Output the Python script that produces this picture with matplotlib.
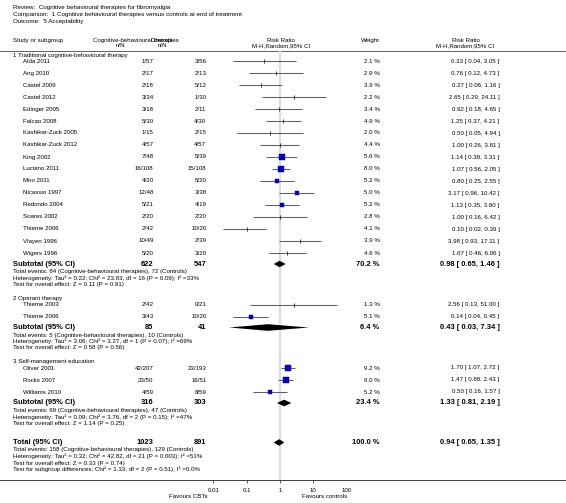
import matplotlib
matplotlib.use("Agg")
import matplotlib.pyplot as plt
import numpy as np

plt.rcParams['font.family'] = ['Liberation Sans', 'DejaVu Sans']

# ---------------- data ----------------
title_lines = ["Review:  Cognitive behavioural therapies for fibromyalgia",
               "Comparison:  1 Cognitive behavioural therapies versus controls at end of treatment",
               "Outcome:  5 Acceptability"]

group_names = ["1 Traditional cognitive-behavioural therapy",
               "2 Operant therapy",
               "3 Self-management education"]

g1_studies = ["Alda 2011", "Ang 2010", "Castel 2009", "Castel 2012", "Edinger 2005", "Falcao 2008",
              "Kashikar-Zuck 2005", "Kashikar-Zuck 2012", "King 2002", "Luciano 2011", "Miro 2011",
              "Nicassio 1997", "Redondo 2004", "Soares 2002", "Thieme 2006", "Vlayen 1996", "Wigers 1996"]
g1_exp = ["1/57", "2/17", "2/18", "3/34", "3/18", "5/30", "1/15", "4/57", "7/48", "16/108", "4/20",
          "12/48", "5/21", "2/20", "2/42", "10/49", "5/20"]
g1_ctl = ["3/56", "2/13", "5/12", "1/30", "2/11", "4/30", "2/15", "4/57", "5/39", "15/108", "5/20",
          "3/38", "4/19", "2/20", "10/20", "2/39", "3/20"]
g1_weight = [2.1, 2.9, 3.9, 2.2, 3.4, 4.9, 2.0, 4.4, 5.6, 8.0, 5.2, 5.0, 5.2, 2.8, 4.1, 3.9, 4.6]
g1_rr = [0.33, 0.76, 0.27, 2.65, 0.92, 1.25, 0.50, 1.00, 1.14, 1.07, 0.80, 3.17, 1.13, 1.00, 0.10, 3.98, 1.67]
g1_lo = [0.04, 0.12, 0.06, 0.29, 0.18, 0.37, 0.05, 0.26, 0.39, 0.56, 0.25, 0.96, 0.35, 0.16, 0.02, 0.93, 0.46]
g1_hi = [3.05, 4.73, 1.16, 24.11, 4.65, 4.21, 4.94, 3.81, 3.31, 2.05, 2.55, 10.42, 3.60, 6.42, 0.39, 17.11, 6.06]

g2_studies = ["Thieme 2003", "Thieme 2006"]
g2_exp = ["2/42", "3/43"]
g2_ctl = ["0/21", "10/20"]
g2_weight = [1.3, 5.1]
g2_rr = [2.56, 0.14]
g2_lo = [0.13, 0.04]
g2_hi = [51.00, 0.45]

g3_studies = ["Oliver 2001", "Rocks 2007", "Williams 2010"]
g3_exp = ["42/207", "23/50", "4/59"]
g3_ctl = ["23/193", "16/51", "8/59"]
g3_weight = [9.2, 9.0, 5.2]
g3_rr = [1.70, 1.47, 0.50]
g3_lo = [1.07, 0.88, 0.16]
g3_hi = [2.72, 2.43, 1.57]

sub_n_exp = [622, 85, 316]
sub_n_ctl = [547, 41, 303]
sub_weight = [70.2, 6.4, 23.4]
sub_rr = [0.98, 0.43, 1.33]
sub_lo = [0.65, 0.03, 0.81]
sub_hi = [1.46, 7.34, 2.19]
sub_notes = [
    ["Total events: 84 (Cognitive-behavioural therapies), 72 (Controls)",
     "Heterogeneity: Tau\u00b2 = 0.22; Chi\u00b2 = 23.83, df = 16 (P = 0.09); I\u00b2 =33%",
     "Test for overall effect: Z = 0.11 (P = 0.91)"],
    ["Total events: 5 (Cognitive-behavioural therapies), 10 (Controls)",
     "Heterogeneity: Tau\u00b2 = 3.06; Chi\u00b2 = 3.27, df = 1 (P = 0.07); I\u00b2 =69%",
     "Test for overall effect: Z = 0.58 (P = 0.56)"],
    ["Total events: 69 (Cognitive-behavioural therapies), 47 (Controls)",
     "Heterogeneity: Tau\u00b2 = 0.09; Chi\u00b2 = 3.76, df = 2 (P = 0.15); I\u00b2 =47%",
     "Test for overall effect: Z = 1.14 (P = 0.25)"],
]

total_n_exp = 1023
total_n_ctl = 891
total_weight = 100.0
total_rr = 0.94
total_lo = 0.65
total_hi = 1.35
total_notes = ["Total events: 158 (Cognitive-behavioural therapies), 129 (Controls)",
               "Heterogeneity: Tau\u00b2 = 0.32; Chi\u00b2 = 42.82, df = 21 (P = 0.003); I\u00b2 =51%",
               "Test for overall effect: Z = 0.33 (P = 0.74)",
               "Test for subgroup differences: Chi\u00b2 = 1.33, df = 2 (P = 0.51), I\u00b2 =0.0%"]

axis_ticks = [0.01, 0.1, 1, 10, 100]
axis_tick_labels = ["0.01", "0.1", "1", "10", "100"]
favours_left = "Favours CBTs"
favours_right = "Favours controls"

groups = [
    (g1_studies, g1_exp, g1_ctl, g1_weight, g1_rr, g1_lo, g1_hi),
    (g2_studies, g2_exp, g2_ctl, g2_weight, g2_rr, g2_lo, g2_hi),
    (g3_studies, g3_exp, g3_ctl, g3_weight, g3_rr, g3_lo, g3_hi),
]

# ---------------- layout ----------------
W, H = 566, 503
fig = plt.figure(figsize=(W / 100, H / 100), dpi=100)
ax = fig.add_axes([0, 0, 1, 1])
ax.set_xlim(0, W)
ax.set_ylim(H, 0)
ax.axis('off')

x_left_px, x_right_px = 213.2, 346.8
axf = fig.add_axes([x_left_px / W, 0, (x_right_px - x_left_px) / W, 1])
axf.set_xscale('log')
axf.set_xlim(0.01, 100)
axf.set_ylim(H, 0)
axf.axis('off')

FS = 4.4
FS_NOTE = 4.4
FS_TITLE = 4.5
FS_B = 5.4
x_name0 = 13
x_name = 23
x_exp = 153.5
x_ctl = 206.5
x_w = 379.5
x_rr = 499.5

def fmt_ci(r, l, h):
    return f"{r:.2f} [ {l:.2f}, {h:.2f} ]"

# titles
for i, t in enumerate(title_lines):
    ax.text(x_name0, 7.5 + i * 6.8, t, fontsize=FS_TITLE, va='center', ha='left')

# header
hy1, hy2 = 40.5, 45.5
ax.text(x_name0, hy1, "Study or subgroup", fontsize=FS, va='center')
ax.text(93, hy1, "Cognitive-behavioural therapies", fontsize=FS, va='center')
ax.text(120, hy2, "n/N", fontsize=FS, va='center', ha='center')
ax.text(151, hy1, "Controls", fontsize=FS, va='center')
ax.text(162, hy2, "n/N", fontsize=FS, va='center', ha='center')
ax.text(281, hy1, "Risk Ratio", fontsize=FS, va='center', ha='center')
ax.text(281, hy2, "M-H,Random,95% CI", fontsize=FS, va='center', ha='center')
ax.text(x_w, hy1, "Weight", fontsize=FS, va='center', ha='right')
ax.text(465.5, hy1, "Risk Ratio", fontsize=FS, va='center', ha='center')
ax.text(465.5, hy2, "M-H,Random,95% CI", fontsize=FS, va='center', ha='center')
header_line_y = 50.5
ax.plot([0, W], [header_line_y, header_line_y], color='#222222', lw=0.5)

axis_y = 480
ci_color = '#5f5f5f'

def diamond(y, r, l, h, hh=3.3):
    axf.fill([l, r, h, r], [y, y - hh, y, y + hh], color='black', lw=0, zorder=5)

y = 55
for gi, (names, ex, ct, wt, rr, lo, hi) in enumerate(groups):
    ax.text(x_name0, y, group_names[gi], fontsize=FS, va='center')
    y += 6
    for k in range(len(names)):
        ax.text(x_name, y, names[k], fontsize=FS, va='center')
        ax.text(x_exp, y, ex[k], fontsize=FS, va='center', ha='right')
        ax.text(x_ctl, y, ct[k], fontsize=FS, va='center', ha='right')
        ax.text(x_w, y, f"{wt[k]:.1f} %", fontsize=FS, va='center', ha='right')
        ax.text(x_rr, y, fmt_ci(rr[k], lo[k], hi[k]), fontsize=FS, va='center', ha='right')
        axf.plot([lo[k], hi[k]], [y, y], color=ci_color, lw=0.75, solid_capstyle='butt', zorder=3)
        if wt[k] >= 5.0:
            side = 2.15 * np.sqrt(wt[k]) * 0.72
            axf.plot([rr[k]], [y], marker='s', ms=side, color='#0000cc', mec='#000080', mew=0.3, zorder=4)
        else:
            axf.plot([rr[k]], [y], marker='|', ms=3.0, color='#333333', mew=0.7, zorder=4)
        y += 12
    y -= 1
    ax.text(x_name0, y, "Subtotal (95% CI)", fontsize=FS_B, va='center', fontweight='bold')
    ax.text(x_exp, y, f"{sub_n_exp[gi]}", fontsize=FS_B, va='center', ha='right', fontweight='bold')
    ax.text(x_ctl, y, f"{sub_n_ctl[gi]}", fontsize=FS_B, va='center', ha='right', fontweight='bold')
    ax.text(x_w, y, f"{sub_weight[gi]:.1f} %", fontsize=FS_B, va='center', ha='right', fontweight='bold')
    ax.text(x_rr, y, fmt_ci(sub_rr[gi], sub_lo[gi], sub_hi[gi]), fontsize=FS_B, va='center', ha='right',
            fontweight='bold')
    diamond(y, sub_rr[gi], sub_lo[gi], sub_hi[gi])
    y += 1
    for note in sub_notes[gi]:
        y += 6.5
        ax.text(x_name0, y, note, fontsize=FS_NOTE, va='center')
    y += 14

# total
y += 5
ax.text(x_name0, y, "Total (95% CI)", fontsize=FS_B, va='center', fontweight='bold')
ax.text(x_exp, y, f"{total_n_exp}", fontsize=FS_B, va='center', ha='right', fontweight='bold')
ax.text(x_ctl, y, f"{total_n_ctl}", fontsize=FS_B, va='center', ha='right', fontweight='bold')
ax.text(x_w, y, f"{total_weight:.1f} %", fontsize=FS_B, va='center', ha='right', fontweight='bold')
ax.text(x_rr, y, fmt_ci(total_rr, total_lo, total_hi), fontsize=FS_B, va='center', ha='right',
        fontweight='bold')
diamond(y, total_rr, total_lo, total_hi)
y += 1
for note in total_notes:
    y += 6.5
    ax.text(x_name0, y, note, fontsize=FS_NOTE, va='center')

# reference line at RR = 1
axf.vlines(1, header_line_y, axis_y, color='#dcdcdc', lw=1.6, zorder=1)

# bottom axis
ax.plot([0, W], [axis_y, axis_y], color='#222222', lw=0.6)
axf.vlines(axis_ticks, axis_y, axis_y + 2.5, color='#222222', lw=0.5)
for t, lab in zip(axis_ticks, axis_tick_labels):
    axf.text(t, axis_y + 10, lab, fontsize=FS, ha='center', va='center')
ax.text(208, axis_y + 17, favours_left, fontsize=FS, ha='right', va='center')
ax.text(302, axis_y + 17, favours_right, fontsize=FS, ha='left', va='center')

fig.savefig("out.png", dpi=100)
